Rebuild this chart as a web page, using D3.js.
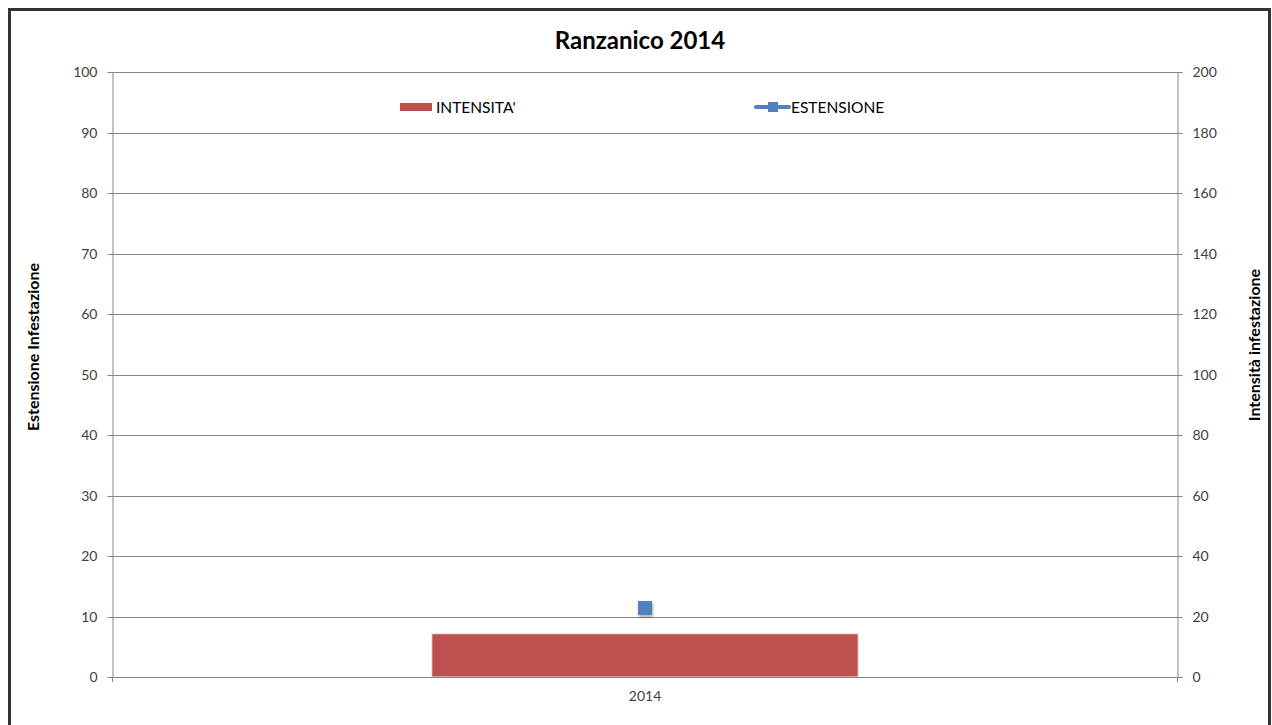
<!DOCTYPE html>
<html><head><meta charset="utf-8">
<script src="https://cdn.jsdelivr.net/npm/d3@7"></script>
<style>
body{margin:0;background:#fff;}
svg{display:block;font-family:Lato,"Open Sans",sans-serif;}
</style></head>
<body>
<svg id="c" width="1272" height="725"></svg>
<script>
const title = "Ranzanico 2014";
const categories = ["2014"];
const intensita = [14.3];     // right axis (Intensità infestazione)
const estensione = [11.4];    // left axis (Estensione Infestazione)
const leftTicks = [0,10,20,30,40,50,60,70,80,90,100];
const rightTicks = [0,20,40,60,80,100,120,140,160,180,200];
const seriesNames = ["INTENSITA'", "ESTENSIONE"];
const leftTitle = "Estensione Infestazione";
const rightTitle = "Intensità infestazione";

const svg = d3.select("#c");
const m = {l:112, r:1178, t:72, b:677};
const axisColor = "#868686", textColor = "#404040";
const red = "#C0504D", blue = "#4F81BD";

const defs = svg.append("defs");
const f = defs.append("filter").attr("id","sh").attr("x","-50%").attr("y","-50%").attr("width","200%").attr("height","200%");
f.append("feDropShadow").attr("dx",1).attr("dy",2).attr("stdDeviation",1.5).attr("flood-color","#000").attr("flood-opacity",0.35);

// frame
svg.append("rect").attr("x",9.5).attr("y",9.5).attr("width",1260).attr("height",730)
  .attr("fill","none").attr("stroke","#333").attr("stroke-width",3);

const x = d3.scaleBand().domain(categories).range([m.l,m.r]).paddingInner(0.6).paddingOuter(0.3);
const yL = d3.scaleLinear().domain([0,100]).range([m.b,m.t]);
const yR = d3.scaleLinear().domain([0,200]).range([m.b,m.t]);

// gridlines
svg.append("g").selectAll("line").data(leftTicks.filter(d=>d>0)).join("line")
  .attr("x1",m.l).attr("x2",m.r).attr("y1",d=>Math.round(yL(d))+0.5).attr("y2",d=>Math.round(yL(d))+0.5)
  .attr("stroke",axisColor).attr("stroke-width",1);

// left axis
const gL = svg.append("g").attr("transform",`translate(${m.l+0.5},0)`)
  .call(d3.axisLeft(yL).tickValues(leftTicks).tickSize(5).tickPadding(10));
// right axis
const gR = svg.append("g").attr("transform",`translate(${m.r-0.5},0)`)
  .call(d3.axisRight(yR).tickValues(rightTicks).tickSize(5).tickPadding(10));
[gL,gR].forEach(g=>{
  g.select(".domain").attr("stroke",axisColor);
  g.selectAll(".tick line").attr("stroke",axisColor);
  g.selectAll(".tick text").attr("fill",textColor).style("font-size","14px").style("font-family","Lato,'Open Sans',sans-serif");
});
gL.selectAll(".tick").attr("transform",d=>`translate(0,${Math.round(yL(d))+0.5})`);
gR.selectAll(".tick").attr("transform",d=>`translate(0,${Math.round(yR(d))+0.5})`);

// bars
svg.append("g").selectAll("rect").data(intensita).join("rect")
  .attr("x",(d,i)=>x(categories[i])).attr("width",x.bandwidth())
  .attr("y",d=>yR(d)).attr("height",d=>m.b-yR(d))
  .attr("fill",red).attr("stroke","#e8e8e8").attr("stroke-width",1);

// bottom axis
const gB = svg.append("g").attr("transform",`translate(0,${m.b+0.5})`)
  .call(d3.axisBottom(x).tickSize(0).tickPadding(14));
gB.select(".domain").attr("stroke",axisColor).attr("d",`M${m.l},0H${m.r}`);
gB.selectAll(".tick text").attr("fill",textColor).style("font-size","14px").style("font-family","Lato,'Open Sans',sans-serif");
svg.append("g").selectAll("line").data([m.l+0.5,m.r-0.5]).join("line")
  .attr("x1",d=>d).attr("x2",d=>d).attr("y1",m.b).attr("y2",m.b+5).attr("stroke",axisColor);

// markers
svg.append("g").selectAll("rect").data(estensione).join("rect")
  .attr("x",(d,i)=>x(categories[i])+x.bandwidth()/2-7).attr("y",d=>yL(d)-7)
  .attr("width",14).attr("height",14).attr("fill",blue).attr("filter","url(#sh)");

// title
svg.append("text").attr("x",640).attr("y",49).attr("text-anchor","middle")
  .style("font-size","24px").style("font-weight","bold").attr("fill","#000").text(title);

// axis titles
svg.append("text").attr("transform","translate(39,347) rotate(-90)").attr("text-anchor","middle")
  .style("font-size","16px").style("font-weight","bold").text(leftTitle);
svg.append("text").attr("transform","translate(1260,345) rotate(-90)").attr("text-anchor","middle")
  .style("font-size","16px").style("font-weight","bold").text(rightTitle);

// legend
const lg = svg.append("g");
lg.append("rect").attr("x",400).attr("y",103).attr("width",32).attr("height",8).attr("fill",red);
lg.append("text").attr("x",436).attr("y",113).style("font-size","15.5px").attr("fill","#000").text(seriesNames[0]);
lg.append("line").attr("x1",756).attr("x2",789).attr("y1",107).attr("y2",107).attr("stroke",blue).attr("stroke-width",4).attr("stroke-linecap","round");
lg.append("rect").attr("x",768).attr("y",102).attr("width",10).attr("height",10).attr("fill",blue);
lg.append("text").attr("x",791).attr("y",113).style("font-size","15.5px").attr("fill","#000").text(seriesNames[1]);
</script>
</body></html>
